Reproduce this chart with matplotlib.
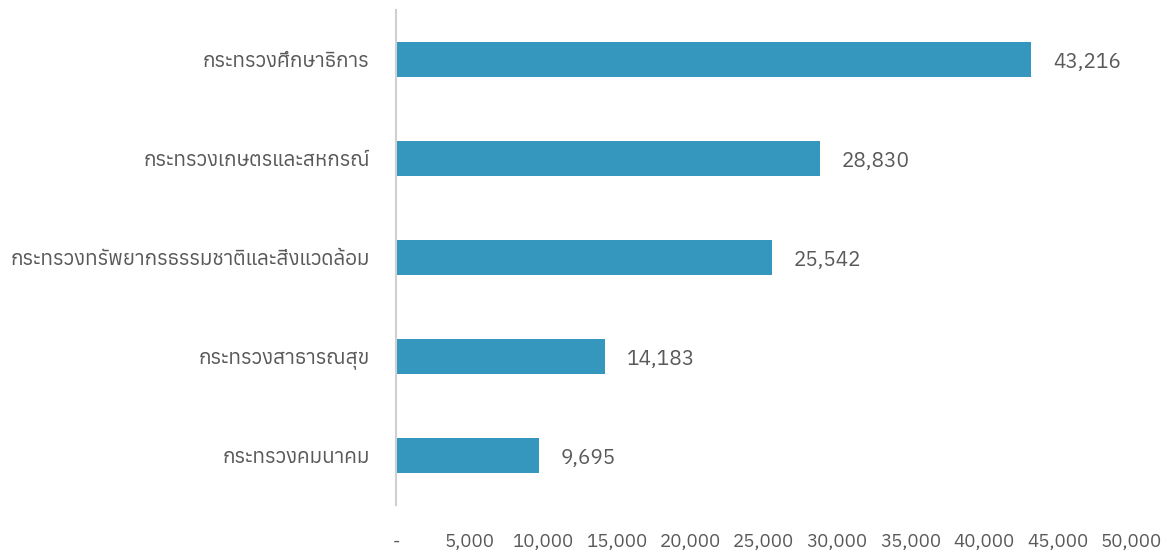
import matplotlib
matplotlib.use("Agg")
import matplotlib.pyplot as plt
from matplotlib import font_manager
from matplotlib.ft2font import FT2Font
from matplotlib.ticker import FuncFormatter

categories = ["กระทรวงศึกษาธิการ", "กระทรวงเกษตรและสหกรณ์",
              "กระทรวงทรัพยากรธรรมชาติและสิ่งแวดล้อม", "กระทรวงสาธารณสุข",
              "กระทรวงคมนาคม"]
values = [43216, 28830, 25542, 14183, 9695]
xticks = [0, 5000, 10000, 15000, 20000, 25000, 30000, 35000, 40000, 45000, 50000]

# pick up whatever installed font has Thai glyphs
thai = []
for f in font_manager.fontManager.ttflist:
    try:
        if 0x0E01 in FT2Font(f.fname).get_charmap():
            thai.append(f.name)
    except Exception:
        pass
plt.rcParams["font.family"] = sorted(set(thai)) + ["DejaVu Sans"]

bar_color = "#3596be"
text_color = "#595959"

fig = plt.figure(figsize=(11.7, 5.53), dpi=100)
ax = fig.add_axes([0.3385, 0.0868, 0.6282, 0.8952])

y = list(range(len(categories)))
ax.barh(y, values, height=0.345, color=bar_color)
ax.set_yticks(y)
ax.set_yticklabels(categories, fontsize=14.8, color=text_color)
ax.set_ylim(len(categories) - 0.5, -0.5)
ax.set_xlim(0, 50000)
ax.set_xticks(xticks)
ax.xaxis.set_major_formatter(FuncFormatter(lambda v, p: "-" if v == 0 else f"{v:,.0f}"))
ax.tick_params(axis="x", length=0, pad=20, labelsize=13.5, labelcolor=text_color)
ax.tick_params(axis="y", length=0, pad=19)

for s in ["top", "right", "bottom"]:
    ax.spines[s].set_visible(False)
ax.spines["left"].set_color("#d0d0d0")
ax.spines["left"].set_linewidth(1.5)

for yi, v in zip(y, values):
    ax.annotate(f"{v:,}", (v, yi), xytext=(16, -2), textcoords="offset points",
                va="center", ha="left", fontsize=15, color=text_color)

fig.savefig("out.png", dpi=100)
